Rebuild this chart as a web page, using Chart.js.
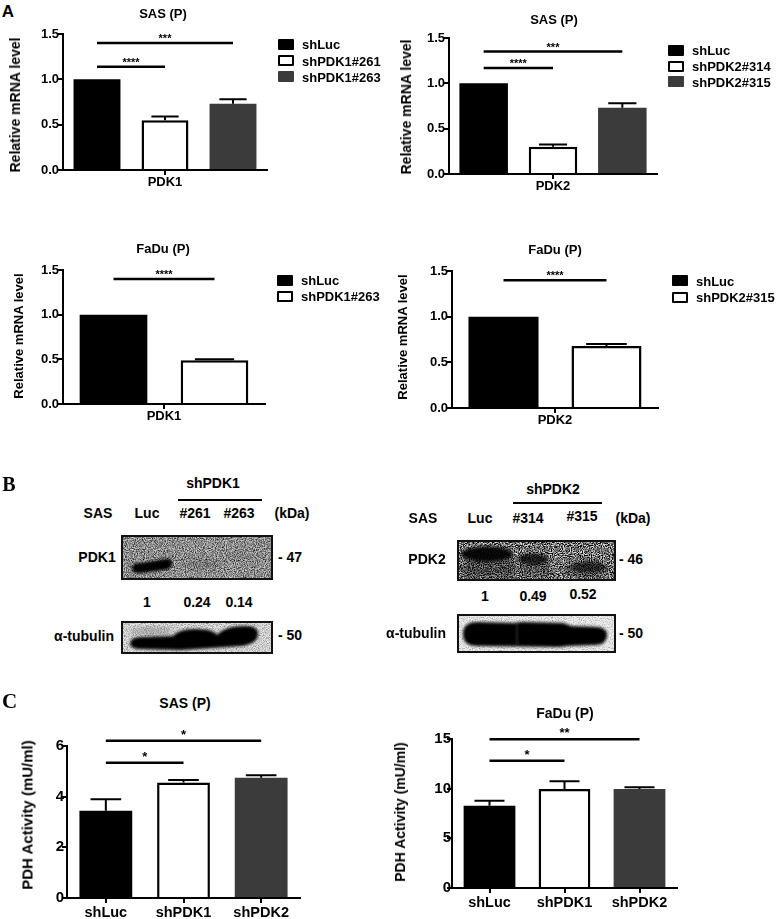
<!DOCTYPE html>
<html><head><meta charset="utf-8">
<script src="https://cdn.jsdelivr.net/npm/chart.js@4.4.1/dist/chart.umd.min.js"></script>
<style>
html,body{margin:0;padding:0;background:#fff;}
#fig{position:relative;width:777px;height:919px;overflow:hidden;font-family:'Liberation Sans',Arial,sans-serif;font-weight:bold;color:#000;background:#fff;}
.t{position:absolute;white-space:nowrap;line-height:1;}
canvas{position:absolute;}
.blot{position:absolute;}
</style></head><body><div id="fig"></div>
<script>
// ---------------- DATA ----------------
// Panel A – relative mRNA level
const a1Categories = ['PDK1'];
const a1Series = ['shLuc', 'shPDK1#261', 'shPDK1#263'];
const a1Values = [1.00, 0.55, 0.73];
const a1Errors = [0, 0.04, 0.05];
const a1Sig = [[0, 1, 1.14, '****'], [0, 2, 1.40, '***']];

const a2Categories = ['PDK2'];
const a2Series = ['shLuc', 'shPDK2#314', 'shPDK2#315'];
const a2Values = [1.00, 0.30, 0.73];
const a2Errors = [0, 0.025, 0.05];
const a2Sig = [[0, 1, 1.17, '****'], [0, 2, 1.35, '***']];

const a3Categories = ['PDK1'];
const a3Series = ['shLuc', 'shPDK1#263'];
const a3Values = [1.00, 0.49];
const a3Errors = [0, 0.01];
const a3Sig = [[0, 1, 1.40, '****']];

const a4Categories = ['PDK2'];
const a4Series = ['shLuc', 'shPDK2#315'];
const a4Values = [1.00, 0.68];
const a4Errors = [0, 0.02];
const a4Sig = [[0, 1, 1.40, '****']];

const mrnaTicks = [0, 0.5, 1.0, 1.5];

// Panel C – PDH activity
const c1Categories = ['shLuc', 'shPDK1', 'shPDK2'];
const c1Values = [3.44, 4.56, 4.75];
const c1Errors = [0.46, 0.10, 0.10];
const c1Sig = [[0, 1, 5.34, '*'], [0, 2, 6.21, '*']];
const c1Ticks = [0, 2, 4, 6];

const c2Categories = ['shLuc', 'shPDK1', 'shPDK2'];
const c2Values = [8.29, 9.97, 9.97];
const c2Errors = [0.50, 0.78, 0.17];
const c2Sig = [[0, 1, 12.8, '*'], [0, 2, 14.98, '**']];
const c2Ticks = [0, 5, 10, 15];

// Panel B – western blot annotations
const blotLeftLanes = ['Luc', '#261', '#263'];
const blotLeftRatios = ['1', '0.24', '0.14'];
const blotRightLanes = ['Luc', '#314', '#315'];
const blotRightRatios = ['1', '0.49', '0.52'];

// ---------------- STYLE ----------------
const FILL = ['#000000', '#ffffff', '#3b3b3b'];
Chart.defaults.font.family = "'Liberation Sans', Arial, sans-serif";
Chart.defaults.font.weight = 'bold';
Chart.defaults.color = '#000';

const fig = document.getElementById('fig');

function txt(x, y, s, size, opt = {}) {
  const d = document.createElement('div');
  d.className = 't';
  d.textContent = s;
  d.style.left = x + 'px';
  d.style.top = y + 'px';
  d.style.fontSize = size + 'px';
  const ax = opt.anchor === 'left' ? '0' : '-50%';
  d.style.transform = `translate(${ax},-50%)` + (opt.rot ? ' rotate(-90deg)' : '');
  if (opt.family) d.style.fontFamily = opt.family;
  fig.appendChild(d);
}
function hline(x1, x2, y, w) {
  const d = document.createElement('div');
  d.style.cssText = `position:absolute;left:${x1}px;top:${y - w / 2}px;width:${x2 - x1}px;height:${w}px;background:#000;`;
  fig.appendChild(d);
}
function legend(x, ys, labels) {
  labels.forEach((lab, i) => {
    const b = document.createElement('div');
    b.style.cssText = `position:absolute;left:${x}px;top:${ys[i] - 5.5}px;width:16px;height:11px;box-sizing:border-box;border-radius:1px;background:${FILL[i]};` + (FILL[i] === '#ffffff' ? 'border:2px solid #000;' : '');
    fig.appendChild(b);
    txt(x + 24, ys[i], lab, 13, { anchor: 'left' });
  });
}

function makeSigPlugin(sig, grouped, starSize, starGap) {
  return {
    id: 'errsig',
    afterDatasetsDraw(chart) {
      const ctx = chart.ctx, ys = chart.scales.y;
      ctx.save();
      ctx.strokeStyle = '#000';
      ctx.lineWidth = 2;
      chart.data.datasets.forEach((ds, di) => {
        const meta = chart.getDatasetMeta(di);
        meta.data.forEach((bar, i) => {
          const e = ds.err[i];
          if (!e) return;
          const v = ds.data[i];
          const yt = ys.getPixelForValue(v + e);
          const yb = ys.getPixelForValue(v);
          const cw = bar.width * 0.29;
          ctx.beginPath();
          ctx.moveTo(bar.x, yb); ctx.lineTo(bar.x, yt);
          ctx.moveTo(bar.x - cw, yt); ctx.lineTo(bar.x + cw, yt);
          ctx.stroke();
        });
      });
      const bx = idx => grouped ? chart.getDatasetMeta(idx).data[0].x : chart.getDatasetMeta(0).data[idx].x;
      ctx.lineWidth = 2.5;
      ctx.fillStyle = '#000';
      ctx.font = `bold ${starSize}px 'Liberation Sans', Arial, sans-serif`;
      ctx.textAlign = 'center';
      ctx.textBaseline = 'alphabetic';
      sig.forEach(([a, b, y, lab]) => {
        const x1 = bx(a), x2 = bx(b), py = ys.getPixelForValue(y);
        ctx.beginPath();
        ctx.moveTo(x1, py); ctx.lineTo(x2, py);
        ctx.stroke();
        ctx.fillText(lab, (x1 + x2) / 2, py - starGap);
      });
      ctx.restore();
    }
  };
}

function makeBar(area, cats, series, values, errors, sig, ticks, o) {
  const YW = 40, XH = 30, PT = 25, PB = 5, PR = 8, PL = 5;
  const x0 = area.l - YW - PL, y0 = area.t - PT;
  const w = area.r - x0 + PR, h = area.b + XH + PB - y0;
  const cv = document.createElement('canvas');
  cv.width = w; cv.height = h;
  cv.style.left = x0 + 'px'; cv.style.top = y0 + 'px';
  cv.style.width = w + 'px'; cv.style.height = h + 'px';
  fig.appendChild(cv);
  let datasets;
  const grouped = !!series;
  if (grouped) {
    datasets = series.map((s, i) => ({
      label: s, data: [values[i]], err: [errors[i]],
      backgroundColor: FILL[i], borderColor: '#000', borderWidth: i === 1 ? 2.5 : 0
    }));
  } else {
    datasets = [{
      label: '', data: values, err: errors,
      backgroundColor: values.map((v, i) => FILL[i]), borderColor: '#000',
      borderWidth: values.map((v, i) => i === 1 ? 2.5 : 0)
    }];
  }
  const axisGrid = { display: true, drawOnChartArea: false, drawTicks: true, tickLength: 5, color: '#000', lineWidth: 2 };
  new Chart(cv, {
    type: 'bar',
    data: { labels: cats, datasets },
    options: {
      responsive: false, animation: false, devicePixelRatio: 1,
      layout: { padding: { left: PL, top: PT, right: PR, bottom: PB } },
      plugins: { legend: { display: false }, tooltip: { enabled: false }, title: { display: false } },
      datasets: { bar: { categoryPercentage: 1, barPercentage: o.bp } },
      scales: {
        x: {
          grid: Object.assign({}, axisGrid, { offset: false }),
          border: { display: true, color: '#000', width: 2 },
          ticks: { color: '#000', font: { size: o.xf, weight: 'bold' }, padding: o.xp, maxRotation: 0, autoSkip: false },
          afterFit: s => { s.height = XH; }
        },
        y: {
          min: ticks[0], max: ticks[ticks.length - 1],
          grid: axisGrid,
          border: { display: true, color: '#000', width: 2 },
          ticks: { color: '#000', font: { size: o.yf, weight: 'bold' }, padding: o.yp, callback: v => o.fmt(v) },
          afterBuildTicks: s => { s.ticks = ticks.map(v => ({ value: v })); },
          afterFit: s => { s.width = YW; }
        }
      }
    },
    plugins: [makeSigPlugin(sig, grouped, o.star, o.gap)]
  });
}

const fmt1 = v => Number(v).toFixed(1);
const fmt0 = v => String(v);
const optA = { bp: 0.69, xf: 13, yf: 13, xp: -0.5, yp: -1, fmt: fmt1, star: 11, gap: 1 };

// ---------------- PANEL A ----------------
txt(8, 11, 'A', 17);
makeBar({ l: 63, r: 267, t: 34, b: 170 }, a1Categories, a1Series, a1Values, a1Errors, a1Sig, mrnaTicks, Object.assign({}, optA, { bp: 0.69 }));
txt(163, 13, 'SAS (P)', 13);
txt(15, 105, 'Relative mRNA level', 14, { rot: true });
legend(278, [44, 60.5, 76.5], a1Series);

makeBar({ l: 449, r: 657, t: 38, b: 174 }, a2Categories, a2Series, a2Values, a2Errors, a2Sig, mrnaTicks, Object.assign({}, optA, { bp: 0.70 }));
txt(554, 18.5, 'SAS (P)', 13);
txt(406, 107, 'Relative mRNA level', 14, { rot: true });
legend(668, [50, 66, 81.5], a2Series);

makeBar({ l: 63, r: 265, t: 270, b: 404 }, a3Categories, a3Series, a3Values, a3Errors, a3Sig, mrnaTicks, Object.assign({}, optA, { bp: 0.67 }));
txt(163, 248, 'FaDu (P)', 13);
txt(18, 336, 'Relative mRNA level', 13, { rot: true });
legend(277, [280, 296], a3Series);

makeBar({ l: 452, r: 658, t: 271, b: 408 }, a4Categories, a4Series, a4Values, a4Errors, a4Sig, mrnaTicks, Object.assign({}, optA, { bp: 0.68 }));
txt(555, 248.5, 'FaDu (P)', 13);
txt(402, 337, 'Relative mRNA level', 13, { rot: true });
legend(672, [280.5, 297], a4Series);

// ---------------- PANEL B ----------------
txt(9, 483.5, 'B', 20, { family: "'Liberation Serif', 'Times New Roman', serif" });

let blotId = 0;
function blot(x, y, w, h, bg, noiseK, noiseB, seed, inner) {
  const id = 'b' + (blotId++);
  const d = document.createElement('div');
  d.className = 'blot';
  d.style.left = x + 'px'; d.style.top = y + 'px';
  d.innerHTML = `<svg xmlns="http://www.w3.org/2000/svg" width="${w}" height="${h}" viewBox="0 0 ${w} ${h}">
  <defs>
   <filter id="nz${id}" x="0" y="0" width="100%" height="100%">
    <feTurbulence type="fractalNoise" baseFrequency="0.9" numOctaves="2" seed="${seed}" result="t"/>
    <feColorMatrix in="t" type="matrix" values="0 0 0 0 0  0 0 0 0 0  0 0 0 0 0  ${noiseK} 0 0 0 ${noiseB}"/>
   </filter>
   <filter id="bl${id}" x="-50%" y="-50%" width="200%" height="200%"><feGaussianBlur stdDeviation="1.8"/></filter>
   <filter id="bs${id}" x="-50%" y="-50%" width="200%" height="200%"><feGaussianBlur stdDeviation="3"/></filter>
  </defs>
  <rect width="${w}" height="${h}" fill="${bg}"/>
  ${inner.replace(/BL/g, 'url(#bl' + id + ')').replace(/BS/g, 'url(#bs' + id + ')')}
  <rect width="${w}" height="${h}" filter="url(#nz${id})"/>
  <rect x="1" y="1" width="${w - 2}" height="${h - 2}" fill="none" stroke="#111" stroke-width="2"/>
 </svg>`;
  fig.appendChild(d);
}

// left blot group
txt(213, 483, 'shPDK1', 14);
hline(178, 262, 500, 2);
txt(98, 513, 'SAS', 14);
txt(147, 513, blotLeftLanes[0], 14);
txt(195, 513, blotLeftLanes[1], 14);
txt(239, 513, blotLeftLanes[2], 14);
txt(292, 513, '(kDa)', 14);
txt(97, 557, 'PDK1', 14);
txt(278, 557, '- 47', 14, { anchor: 'left' });
blot(121, 535, 152, 45, '#c6c6c6', 1.7, -0.55, 3,
  `<g filter="BL">
     <path d="M11 33 Q11 28 20 28 L44 24 Q52 23 51 29 Q50 35 42 35 L20 38 Q11 39 11 33Z" fill="#050505"/>
   </g>
   <g filter="BS">
     <ellipse cx="80" cy="29" rx="20" ry="3.5" fill="#666" opacity=".45"/>
     <ellipse cx="120" cy="22" rx="18" ry="3" fill="#777" opacity=".3"/>
   </g>`);
txt(147, 602, blotLeftRatios[0], 14);
txt(197, 602, blotLeftRatios[1], 14);
txt(239, 602, blotLeftRatios[2], 14);
txt(84, 636, 'α-tubulin', 14);
txt(278, 635, '- 50', 14, { anchor: 'left' });
blot(121, 621, 152, 33, '#e6e6e6', 1.0, -0.4, 7,
  `<g filter="BS">
     <ellipse cx="30" cy="10" rx="22" ry="2.5" fill="#777" opacity=".7"/>
   </g>
   <g filter="BL">
     <path d="M9 22 Q10 16 20 16 L52 15 Q58 8 74 8 Q92 8 96 14 Q104 5 124 5 Q138 5 137 14 Q136 23 120 25 L60 29 L20 28 Q9 28 9 22Z" fill="#060606"/>
   </g>`);

// right blot group
txt(553, 489, 'shPDK2', 14);
hline(513, 602, 503, 2);
txt(423, 518, 'SAS', 14);
txt(480, 518, blotRightLanes[0], 14);
txt(528, 518, blotRightLanes[1], 14);
txt(582, 516, blotRightLanes[2], 14);
txt(633, 518, '(kDa)', 14);
txt(427, 559, 'PDK2', 14);
txt(619, 559, '- 46', 14, { anchor: 'left' });
blot(457, 540, 159, 41, '#dedede', 2.6, -0.8, 11,
  `<g filter="BS">
     <rect x="6" y="18" width="54" height="20" fill="#555" opacity=".6"/>
     <rect x="62" y="20" width="32" height="17" fill="#666" opacity=".55"/>
     <ellipse cx="130" cy="29" rx="22" ry="8" fill="#555" opacity=".6"/>
   </g>
   <g filter="BL">
     <ellipse cx="30" cy="14" rx="26" ry="7.5" fill="#070707"/>
     <ellipse cx="76" cy="19" rx="15" ry="6" fill="#222" opacity=".9"/>
     <ellipse cx="131" cy="27" rx="17" ry="5.5" fill="#333" opacity=".8"/>
   </g>
   <rect x="58" y="3" width="4" height="36" fill="#fff" opacity=".6" filter="BL"/>`);
txt(485, 596, blotRightRatios[0], 14);
txt(533, 596, blotRightRatios[1], 14);
txt(583, 594, blotRightRatios[2], 14);
txt(416, 633, 'α-tubulin', 14);
txt(619, 633, '- 50', 14, { anchor: 'left' });
blot(457, 614, 159, 39, '#efefef', 0.8, -0.35, 5,
  `<g filter="BL">
     <path d="M6 20 Q6 8 20 8 L58 9 Q62 8 66 8 L106 9 Q110 10 114 12 L140 13 Q151 14 150 22 Q149 31 138 31 L110 32 Q106 33 100 33 L20 32 Q6 32 6 20Z" fill="#050505"/>
   </g>
   <rect x="59" y="9" width="2" height="22" fill="#555" opacity=".5" filter="BL"/>`);

// ---------------- PANEL C ----------------
txt(9.5, 700.5, 'C', 21, { family: "'Liberation Serif', 'Times New Roman', serif" });
const optC = { bp: 0.68, xf: 14.5, yf: 15, xp: 1.3, yp: -2, fmt: fmt0, star: 13, gap: 2 };
makeBar({ l: 67, r: 300, t: 746, b: 898 }, c1Categories, null, c1Values, c1Errors, c1Sig, c1Ticks, optC);
txt(185, 703, 'SAS (P)', 14);
txt(27, 815, 'PDH Activity (mU/ml)', 15, { rot: true });

makeBar({ l: 452, r: 677, t: 739, b: 888 }, c2Categories, null, c2Values, c2Errors, c2Sig, c2Ticks, Object.assign({}, optC, { bp: 0.69, yp: -4 }));
txt(565, 713, 'FaDu (P)', 14);
txt(400, 811.5, 'PDH Activity (mU/ml)', 14, { rot: true });
</script>
</body></html>
